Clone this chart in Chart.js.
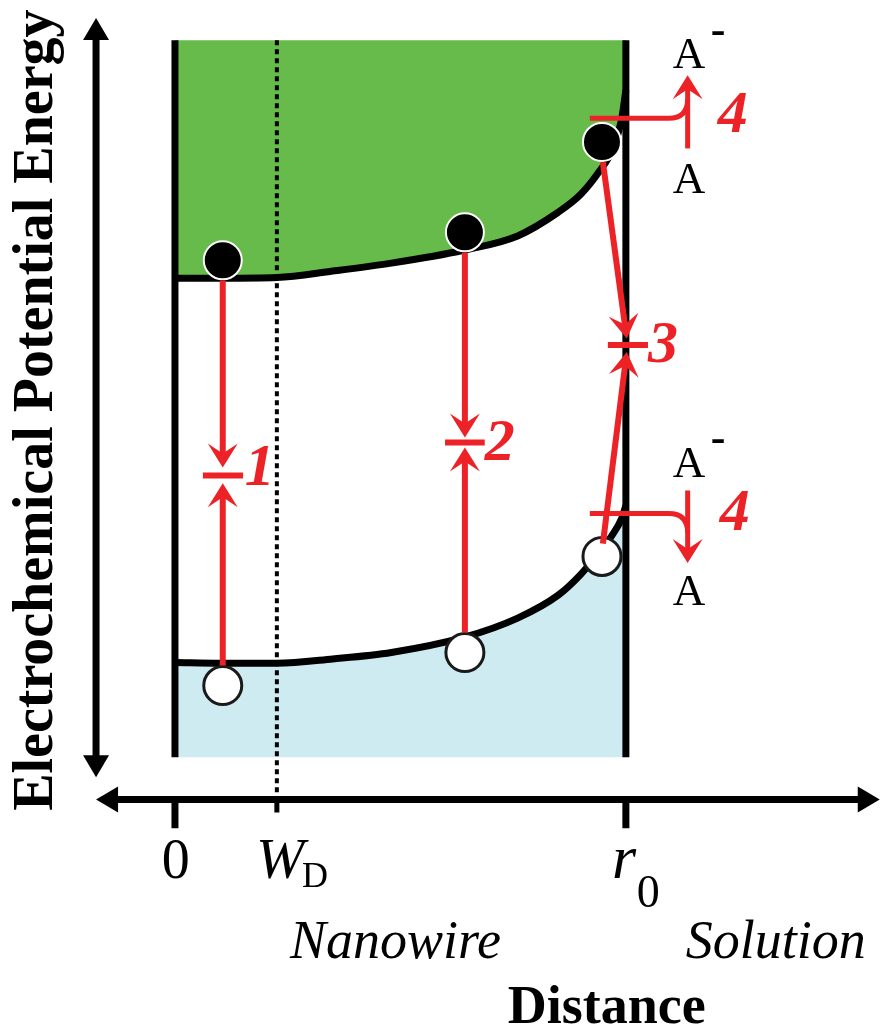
<html>
<title>Nanowire band diagram</title>
<head>
<style>
html, body {
  margin:0px;
  background:#ffffff;
}
</style>
<script src="https://cdn.jsdelivr.net/npm/chart.js@4.4.1/dist/chart.umd.min.js"></script>
</head>
<body>
<div style="position: relative; width: 882px; height: 1029px;">
<canvas id="bandChart" width="882" height="1029"></canvas>
</div>
<script>
// distance from the wire centre (0) to the surface r0 (100)
const distance = [0, 10, 22.6, 35, 48, 64, 76, 85, 90, 94, 97, 99, 100];
const cbEnergy = [66.8, 66.8, 66.9, 67.8, 68.9, 70.7, 72.7, 76.0, 78.5, 81.6, 84.7, 88.8, 93.0]; // conduction band edge
const vbEnergy = [13.2, 13.1, 13.1, 13.7, 14.6, 16.7, 19.4, 22.6, 25.5, 28.5, 31.0, 33.2, 35.1]; // valence band edge
const depletionWidth = 22.6;
const wireRadius = 100;

// carriers
const electronX = [10.6, 64.3, 94.7];
const electronE = [69.3, 73.2, 85.8];
const holeX = [10.6, 64.3, 94.7];
const holeE = [10.0, 14.6, 28.0];

// recombination paths 1..3 : electron going down, hole going up, meeting at a bar
const pathNames = ['1', '2', '3'];
const downStart = [[10.6, 66.5], [64.3, 70.4], [94.9, 83.0]];
const downTip   = [[10.6, 40.4], [64.3, 44.6], [100.2, 58.4]];
const upStart   = [[10.6, 12.8], [64.3, 17.4], [94.9, 29.8]];
const upTip     = [[10.6, 38.2], [64.3, 43.2], [100.2, 56.5]];
const barE = [39.3, 43.9, 57.5];
const barX = [[6.2, 15.1], [59.9, 68.7], [96.0, 104.9]];

// surface transfer 4 : A -> A- (electron) and A- -> A (hole)
const transferStartX = 92.0;
const transferX = 113.7;
const transferE = [89.1, 34.0];      // horizontal level
const transferTail = [84.9, 37.2];   // vertical line start
const transferTip = [95.1, 27.1];    // arrow tip

// axis arrows and ticks
const axisX = -17.5, axisE = -5.9;
const axisTop = 103.1, axisBottom = -2.8, axisLeft = -17.5, axisRight = 156.3;
const tickX = [0, depletionWidth, wireRadius];
const tickEnd = [-9.9, -7.7, -9.9];

const GREEN = '#66bb4a', BLUE = '#cfebf2', RED = '#ed2227';

function pts(xs, ys) { return xs.map((x, i) => ({x: x, y: ys[i]})); }
function seg(x1, y1, x2, y2) { return [{x: x1, y: y1}, {x: x2, y: y2}]; }

const datasets = [];
// bands
datasets.push({ data: pts(distance, cbEnergy), borderColor: '#000', borderWidth: 7, backgroundColor: GREEN,
  fill: {value: 100}, cubicInterpolationMode: 'monotone', order: 9 });
datasets.push({ data: pts(distance, vbEnergy), borderColor: '#000', borderWidth: 7, backgroundColor: BLUE,
  fill: {value: 0}, cubicInterpolationMode: 'monotone', order: 9 });
// wire edges
datasets.push({ data: seg(0, 0, 0, 100), borderColor: '#000', borderWidth: 7, order: 7 });
datasets.push({ data: seg(wireRadius, 0, wireRadius, 100), borderColor: '#000', borderWidth: 7, order: 7 });
// depletion boundary
datasets.push({ data: seg(depletionWidth, 100, depletionWidth, axisE), borderColor: '#000', borderWidth: 4,
  borderDash: [5, 4], order: 8 });
// axis ticks
datasets.push({ data: seg(tickX[0], axisE, tickX[0], tickEnd[0]), borderColor: '#000', borderWidth: 7, order: 6 });
datasets.push({ data: seg(tickX[1], axisE, tickX[1], tickEnd[1]), borderColor: '#000', borderWidth: 5, order: 6 });
datasets.push({ data: seg(tickX[2], axisE, tickX[2], tickEnd[2]), borderColor: '#000', borderWidth: 7, order: 6 });
// meeting bars of paths 1..3
barE.forEach((e, i) => {
  datasets.push({ data: seg(barX[i][0], e, barX[i][1], e), borderColor: RED, borderWidth: 6, order: 3 });
});
// carriers
datasets.push({ data: pts(electronX, electronE), showLine: false, pointRadius: 19,
  pointBackgroundColor: '#000', pointBorderColor: '#fff', pointBorderWidth: 2, order: 1 });
datasets.push({ data: pts(holeX, holeE), showLine: false, pointRadius: 19,
  pointBackgroundColor: '#fff', pointBorderColor: '#1a1a1a', pointBorderWidth: 3, order: 1 });

function drawHead(ctx, a, b, color, len, half, notch) {
  const ang = Math.atan2(b[1] - a[1], b[0] - a[0]);
  ctx.save();
  ctx.translate(b[0], b[1]);
  ctx.rotate(ang);
  ctx.beginPath();
  ctx.moveTo(0, 0);
  ctx.lineTo(-len, -half);
  ctx.lineTo(-len + notch, 0);
  ctx.lineTo(-len, half);
  ctx.closePath();
  ctx.fillStyle = color;
  ctx.fill();
  ctx.restore();
}

// shaft from a to b, stopped inside the head, then the head at b
function drawArrow(ctx, a, b, color, lw, len, half, notch) {
  const ang = Math.atan2(b[1] - a[1], b[0] - a[0]);
  const back = len - notch - 2;
  ctx.strokeStyle = color;
  ctx.lineWidth = lw;
  ctx.lineCap = 'butt';
  ctx.beginPath();
  ctx.moveTo(a[0], a[1]);
  ctx.lineTo(b[0] - Math.cos(ang) * back, b[1] - Math.sin(ang) * back);
  ctx.stroke();
  drawHead(ctx, a, b, color, len, half, notch);
}

// one shaft, heads at both ends
function drawDoubleArrow(ctx, a, b, color, lw, len, half) {
  const ang = Math.atan2(b[1] - a[1], b[0] - a[0]);
  const back = len - 2;
  ctx.strokeStyle = color;
  ctx.lineWidth = lw;
  ctx.lineCap = 'butt';
  ctx.beginPath();
  ctx.moveTo(a[0] + Math.cos(ang) * back, a[1] + Math.sin(ang) * back);
  ctx.lineTo(b[0] - Math.cos(ang) * back, b[1] - Math.sin(ang) * back);
  ctx.stroke();
  drawHead(ctx, a, b, color, len, half, 0);
  drawHead(ctx, b, a, color, len, half, 0);
}

const arrowsPlugin = {
  id: 'bandArrows',
  afterDatasetsDraw(chart) {
    const ctx = chart.ctx, xs = chart.scales.x, ys = chart.scales.y;
    const P = (x, y) => [xs.getPixelForValue(x), ys.getPixelForValue(y)];
    ctx.save();
    // axes
    drawDoubleArrow(ctx, P(axisX, axisBottom), P(axisX, axisTop), '#000', 7, 22, 13);
    drawDoubleArrow(ctx, P(axisLeft, axisE), P(axisRight, axisE), '#000', 7, 22, 13);
    // paths 1..3
    for (let i = 0; i < pathNames.length; i++) {
      drawArrow(ctx, P(...downStart[i]), P(...downTip[i]), RED, 6, 24, 15, 10);
      drawArrow(ctx, P(...upStart[i]), P(...upTip[i]), RED, 6, 24, 15, 10);
    }
    // path 4, horizontal then bending into the vertical arrow
    const r = 19;
    for (let i = 0; i < 2; i++) {
      const s = P(transferStartX, transferE[i]);
      const c = P(transferX, transferE[i]);
      const dir = transferTip[i] > transferE[i] ? -1 : 1;
      ctx.strokeStyle = RED;
      ctx.lineWidth = 5;
      ctx.beginPath();
      ctx.moveTo(s[0], s[1]);
      ctx.lineTo(c[0] - r, c[1]);
      ctx.quadraticCurveTo(c[0], c[1], c[0], c[1] + dir * r);
      ctx.stroke();
      drawArrow(ctx, P(transferX, transferTail[i]), P(transferX, transferTip[i]), RED, 5, 24, 15, 10);
    }
    ctx.restore();
  }
};

// text: [text, x, energy, font, align, colour]
const SERIF = '"Liberation Serif", "Times New Roman", serif';
const labels = [
  ['0', 0.2, -16.9, '56px ' + SERIF, 'center', '#000'],
  ['W', 18.0, -16.9, 'italic 58px ' + SERIF, 'left', '#000'],
  ['D', 28.2, -18.1, '36px ' + SERIF, 'left', '#000'],
  ['r', 96.9, -16.9, 'italic 62px ' + SERIF, 'left', '#000'],
  ['0', 102.4, -20.9, '46px ' + SERIF, 'left', '#000'],
  ['Nanowire', 25.5, -28.0, 'italic 54px ' + SERIF, 'left', '#000'],
  ['Solution', 113.3, -28.0, 'italic 54px ' + SERIF, 'left', '#000'],
  ['Distance', 73.8, -37.1, 'bold 54px ' + SERIF, 'left', '#000'],
  ['A', 114.0, 96.1, '45px ' + SERIF, 'center', '#000'],
  ['-', 118.8, 99.4, 'bold 44px ' + SERIF, 'left', '#000'],
  ['A', 114.0, 78.7, '45px ' + SERIF, 'center', '#000'],
  ['A', 114.0, 39.1, '45px ' + SERIF, 'center', '#000'],
  ['-', 118.8, 42.5, 'bold 44px ' + SERIF, 'left', '#000'],
  ['A', 114.0, 21.2, '45px ' + SERIF, 'center', '#000'],
  ['1', 15.5, 37.9, 'italic bold 60px ' + SERIF, 'left', RED],
  ['2', 68.7, 41.4, 'italic bold 60px ' + SERIF, 'left', RED],
  ['3', 104.9, 55.1, 'italic bold 60px ' + SERIF, 'left', RED],
  ['4', 120.4, 87.2, 'italic bold 60px ' + SERIF, 'left', RED],
  ['4', 120.8, 31.7, 'italic bold 60px ' + SERIF, 'left', RED]
];
const yTitle = 'Electrochemical Potential Energy';

const labelsPlugin = {
  id: 'bandLabels',
  afterDraw(chart) {
    const ctx = chart.ctx, xs = chart.scales.x, ys = chart.scales.y;
    ctx.save();
    ctx.textBaseline = 'alphabetic';
    labels.forEach(l => {
      ctx.font = l[3];
      ctx.textAlign = l[4];
      ctx.fillStyle = l[5];
      ctx.fillText(l[0], xs.getPixelForValue(l[1]), ys.getPixelForValue(l[2]));
    });
    ctx.translate(xs.getPixelForValue(-27.3), ys.getPixelForValue(48.4));
    ctx.rotate(-Math.PI / 2);
    ctx.font = 'bold 56px ' + SERIF;
    ctx.textAlign = 'center';
    ctx.fillStyle = '#000';
    ctx.fillText(yTitle, 0, 0);
    ctx.restore();
  }
};

const bandChart = new Chart(document.getElementById('bandChart'), {
  type: 'line',
  data: { datasets: datasets },
  options: {
    responsive: false,
    animation: false,
    events: [],
    layout: { padding: 0, autoPadding: false },
    elements: { point: { radius: 0 } },
    plugins: {
      legend: { display: false },
      tooltip: { enabled: false }
    },
    scales: {
      x: { type: 'linear', min: -38.8, max: 156.8, display: false },
      y: { type: 'linear', min: -37.9, max: 105.6, display: false }
    }
  },
  plugins: [arrowsPlugin, labelsPlugin]
});
</script>
</body>
</html>
